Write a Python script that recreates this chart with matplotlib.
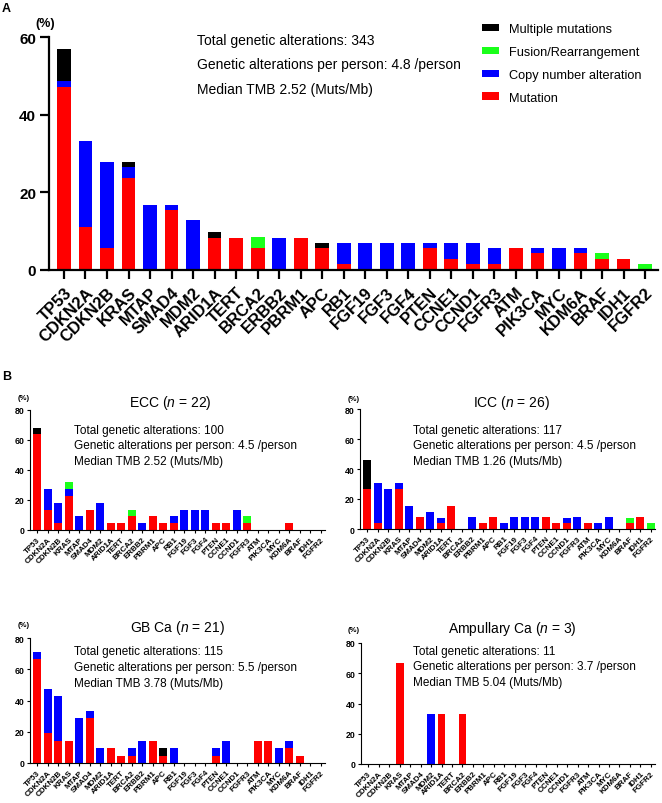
import matplotlib
matplotlib.use('Agg')
import matplotlib.pyplot as plt
import numpy as np
from matplotlib.patches import Patch

plt.rcParams['font.family'] = ['Liberation Sans', 'DejaVu Sans']
plt.rcParams['mathtext.fontset'] = 'custom'
plt.rcParams['mathtext.rm'] = 'Liberation Sans'
plt.rcParams['mathtext.it'] = 'Liberation Sans:italic'

genes = ['TP53', 'CDKN2A', 'CDKN2B', 'KRAS', 'MTAP', 'SMAD4', 'MDM2', 'ARID1A', 'TERT',
         'BRCA2', 'ERBB2', 'PBRM1', 'APC', 'RB1', 'FGF19', 'FGF3', 'FGF4', 'PTEN', 'CCNE1',
         'CCND1', 'FGFR3', 'ATM', 'PIK3CA', 'MYC', 'KDM6A', 'BRAF', 'IDH1', 'FGFR2']

# panel A: all patients (%)
all_mut = [47.2, 11.1, 5.6, 23.6, 0, 15.3, 0, 8.3, 8.3, 5.6, 0, 8.3, 5.6, 1.4,
           0, 0, 0, 5.6, 2.8, 1.4, 1.4, 5.6, 4.2, 0, 4.2, 2.8, 2.8, 0]
all_cna = [1.4, 22.2, 22.2, 2.8, 16.7, 1.4, 12.9, 0, 0, 0, 8.3, 0, 0, 5.6,
           6.9, 6.9, 6.9, 1.4, 4.2, 5.6, 4.2, 0, 1.4, 5.6, 1.4, 0, 0, 0]
all_fus = [0, 0, 0, 0, 0, 0, 0, 0, 0, 2.8, 0, 0, 0, 0,
           0, 0, 0, 0, 0, 0, 0, 0, 0, 0, 0, 1.4, 0, 1.4]
all_mult = [8.3, 0, 0, 1.4, 0, 0, 0, 1.4, 0, 0, 0, 0, 1.4, 0,
            0, 0, 0, 0, 0, 0, 0, 0, 0, 0, 0, 0, 0, 0]

# panel B: subgroups (%)
ecc_mut = [63.6, 13.6, 4.5, 22.7, 0, 13.6, 0, 4.5, 4.5, 9.1, 0, 9.1, 4.5, 4.5,
           0, 0, 0, 4.5, 4.5, 0, 4.5, 0, 0, 0, 4.5, 0, 0, 0]
ecc_cna = [0, 13.6, 13.6, 4.5, 9.1, 0, 18.2, 0, 0, 0, 4.5, 0, 0, 4.5,
           13.6, 13.6, 13.6, 0, 0, 13.6, 0, 0, 0, 0, 0, 0, 0, 0]
ecc_fus = [0, 0, 0, 4.5, 0, 0, 0, 0, 0, 4.5, 0, 0, 0, 0,
           0, 0, 0, 0, 0, 0, 4.5, 0, 0, 0, 0, 0, 0, 0]
ecc_mult = [4.5, 0, 0, 0, 0, 0, 0, 0, 0, 0, 0, 0, 0, 0,
            0, 0, 0, 0, 0, 0, 0, 0, 0, 0, 0, 0, 0, 0]

icc_mut = [26.9, 3.8, 0, 26.9, 0, 7.7, 0, 3.8, 15.4, 0, 0, 3.8, 7.7, 0,
           0, 0, 0, 7.7, 3.8, 3.8, 0, 3.8, 0, 0, 0, 3.8, 7.7, 0]
icc_cna = [0, 26.9, 26.9, 3.8, 15.4, 0, 11.5, 3.8, 0, 0, 7.7, 0, 0, 3.8,
           7.7, 7.7, 7.7, 0, 0, 3.8, 7.7, 0, 3.8, 7.7, 0, 0, 0, 0]
icc_fus = [0, 0, 0, 0, 0, 0, 0, 0, 0, 0, 0, 0, 0, 0,
           0, 0, 0, 0, 0, 0, 0, 0, 0, 0, 0, 3.8, 0, 3.8]
icc_mult = [19.2, 0, 0, 0, 0, 0, 0, 0, 0, 0, 0, 0, 0, 0,
            0, 0, 0, 0, 0, 0, 0, 0, 0, 0, 0, 0, 0, 0]

gb_mut = [66.7, 19.0, 14.3, 14.3, 0, 28.6, 0, 9.5, 4.8, 4.8, 0, 14.3, 4.8, 0,
          0, 0, 0, 4.8, 0, 0, 0, 14.3, 14.3, 0, 9.5, 4.8, 0, 0]
gb_cna = [4.8, 28.6, 28.6, 0, 28.6, 4.8, 9.5, 0, 0, 4.8, 14.3, 0, 0, 9.5,
          0, 0, 0, 4.8, 14.3, 0, 0, 0, 0, 9.5, 4.8, 0, 0, 0]
gb_fus = [0] * 28
gb_mult = [0, 0, 0, 0, 0, 0, 0, 0, 0, 0, 0, 0, 4.8, 0,
           0, 0, 0, 0, 0, 0, 0, 0, 0, 0, 0, 0, 0, 0]

amp_mut = [0, 0, 0, 66.7, 0, 0, 0, 33.3, 0, 33.3, 0, 0, 0, 0,
           0, 0, 0, 0, 0, 0, 0, 0, 0, 0, 0, 0, 0, 0]
amp_cna = [0, 0, 0, 0, 0, 0, 33.3, 0, 0, 0, 0, 0, 0, 0,
           0, 0, 0, 0, 0, 0, 0, 0, 0, 0, 0, 0, 0, 0]
amp_fus = [0] * 28
amp_mult = [0] * 28

group_names = ['ECC', 'ICC', 'GB Ca', 'Ampullary Ca']
group_n = [22, 26, 21, 3]
group_total = [100, 117, 115, 11]
group_per_person = [4.5, 4.5, 5.5, 3.7]
group_tmb = [2.52, 1.26, 3.78, 5.04]

cat_labels = ['Mutation', 'Copy number alteration', 'Fusion/Rearrangement', 'Multiple mutations']
cat_colors = ['#ff0000', '#0000ff', '#1aff1a', '#000000']

W, H = 662, 804
fig = plt.figure(figsize=(W / 100, H / 100), dpi=100)


def px(x, y):
    return x / W, 1 - y / H


def add_ax(l, t, r, b):
    return fig.add_axes([l / W, 1 - b / H, (r - l) / W, (b - t) / H])


def stacked(ax, series, width):
    x = np.arange(len(genes))
    bottom = np.zeros(len(genes))
    for vals, col in zip(series, cat_colors):
        vals = np.array(vals, dtype=float)
        ax.bar(x, vals, width, bottom=bottom, color=col, linewidth=0)
        bottom += vals


# ---------------- panel A ----------------
axA = add_ax(49.3, 38.3, 658, 270.7)
stacked(axA, [all_mut, all_cna, all_fus, all_mult], 0.64)
axA.set_xlim(-0.68, 27.6)
axA.set_ylim(0, 60)
axA.set_yticks([0, 20, 40, 60])
axA.set_xticks(np.arange(len(genes)))
axA.set_xticklabels(genes, rotation=45, ha='right', va='top', rotation_mode='anchor',
                    fontsize=12, fontweight='bold')
for lab in axA.get_yticklabels():
    lab.set_fontweight('bold')
axA.tick_params(axis='y', labelsize=11, length=6.5, width=1.6, pad=3)
axA.tick_params(axis='x', length=6.5, width=1.6, pad=4)
for s in ['top', 'right']:
    axA.spines[s].set_visible(False)
for s in ['left', 'bottom']:
    axA.spines[s].set_linewidth(1.6)

fig.text(*px(2, 9), 'A', fontsize=9, fontweight='bold', va='center')
fig.text(*px(45, 24), '(%)', fontsize=9, fontweight='bold', ha='center', va='center')
statsA = ['Total genetic alterations: 343',
          'Genetic alterations per person: 4.8 /person',
          'Median TMB 2.52 (Muts/Mb)']
for i, s in enumerate(statsA):
    fig.text(*px(197, 41 + 24.5 * i), s, fontsize=10, va='center')

handles = [Patch(facecolor=c, edgecolor='none', label=l) for c, l in zip(cat_colors, cat_labels)]
fig.legend(handles=handles[::-1], loc='upper left', bbox_to_anchor=px(482, 24),
           frameon=False, fontsize=9.2, handlelength=1.35, handleheight=0.5,
           handletextpad=0.8, labelspacing=0.85, borderpad=0, borderaxespad=0)

# ---------------- panel B ----------------
fig.text(*px(2, 377), 'B', fontsize=9, fontweight='bold', va='center')

groups = [
    [ecc_mut, ecc_cna, ecc_fus, ecc_mult],
    [icc_mut, icc_cna, icc_fus, icc_mult],
    [gb_mut, gb_cna, gb_fus, gb_mult],
    [amp_mut, amp_cna, amp_fus, amp_mult],
]
boxes = [(30, 410.7, 325, 531), (360, 410, 655, 530),
         (30, 639.3, 325, 764), (361, 644, 655, 765)]
title_pos = [(170.5, 403), (511.7, 403), (177.5, 628.3), (512, 629.3)]
pct_pos = [(24, 399), (354, 400), (24, 625.7), (354, 631)]
stat_pos = [(74, 430.7), (413, 430.7), (74, 652), (413, 651.7)]

for g in range(4):
    ax = add_ax(*boxes[g])
    stacked(ax, groups[g], 0.75)
    ax.set_xlim(-0.7, 27.4)
    ax.set_ylim(0, 80)
    ax.set_yticks([0, 20, 40, 60, 80])
    ax.set_xticks(np.arange(len(genes)))
    ax.set_xticklabels(genes, rotation=45, ha='right', va='top', rotation_mode='anchor',
                       fontsize=5.8, fontweight='bold')
    for lab in ax.get_yticklabels():
        lab.set_fontweight('bold')
    ax.tick_params(axis='y', labelsize=6.3, length=2.5, width=0.8, pad=1.5)
    ax.tick_params(axis='x', length=2.5, width=0.8, pad=1.5)
    for s in ['top', 'right']:
        ax.spines[s].set_visible(False)
    for s in ['left', 'bottom']:
        ax.spines[s].set_linewidth(0.8)

    fig.text(*px(*title_pos[g]), group_names[g] + ' ($n$ = %d)' % group_n[g],
             fontsize=10, ha='center', va='center')
    fig.text(*px(*pct_pos[g]), '(%)', fontsize=5.5, fontweight='bold', ha='center', va='center')
    sx, sy = stat_pos[g]
    lines = ['Total genetic alterations: %d' % group_total[g],
             'Genetic alterations per person: %.1f /person' % group_per_person[g],
             'Median TMB %.2f (Muts/Mb)' % group_tmb[g]]
    for i, s in enumerate(lines):
        fig.text(*px(sx, sy + 15.8 * i), s, fontsize=8.5, va='center')

fig.savefig('out.png', dpi=100)
